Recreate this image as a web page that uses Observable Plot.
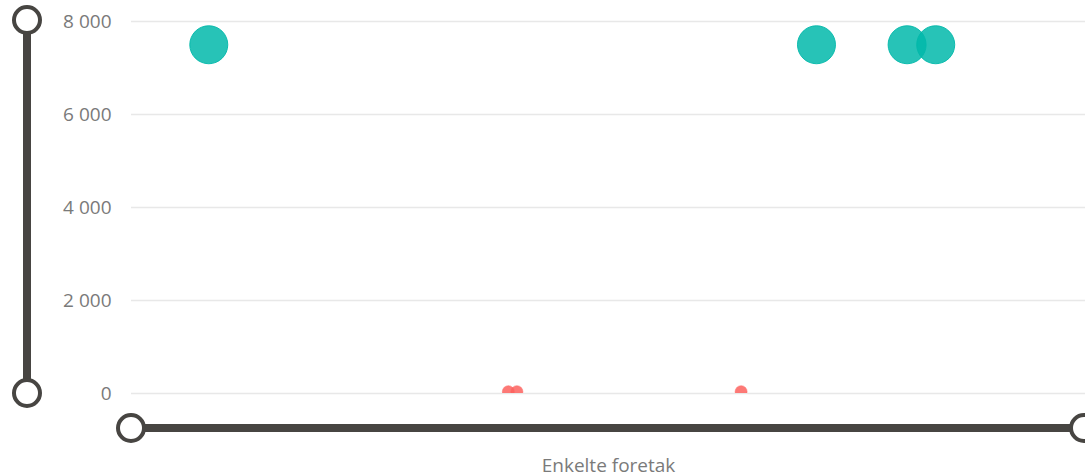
<!DOCTYPE html>
<html><head><meta charset="utf-8">
<script src="https://cdn.jsdelivr.net/npm/d3@7"></script>
<script src="https://cdn.jsdelivr.net/npm/@observablehq/plot@0.6"></script>
<style>
body{margin:0;background:#fff;}
svg{font-family:"Open Sans","Segoe UI",sans-serif;}
</style>
</head><body><div id="chart"></div>
<script>
// Series "store" (teal) and series "små" (red) – x position along the hidden axis, y value
const tealX = [81, 718, 813, 843];
const tealY = [7500, 7500, 7500, 7500];
const redX = [395, 404, 639];
const redY = [40, 40, 40];
const yTicks = [0, 2000, 4000, 6000, 8000];
const xDomain = [0, 1000];
const yDomain = [0, 8000];
const xLabel = "Enkelte foretak";

const teal = tealX.map((x, i) => ({x, y: tealY[i]}));
const red = redX.map((x, i) => ({x, y: redY[i]}));
const fmt = d => d3.format(",")(d).replace(/,/g, " ");

const plot = Plot.plot({
  width: 1085,
  height: 476,
  marginLeft: 131,
  marginRight: 0,
  marginTop: 21,
  marginBottom: 83,
  style: {fontSize: "19px", fontFamily: "'Open Sans','Segoe UI',sans-serif", color: "#7a7a7a", background: "#fff", overflow: "visible"},
  x: {domain: xDomain, axis: null},
  y: {domain: yDomain, ticks: yTicks, tickSize: 0, tickPadding: 20, tickFormat: fmt, label: null},
  marks: [
    Plot.ruleY(yTicks, {stroke: "#e8e8e8", strokeWidth: 1.5}),
    Plot.dot(red, {x: "x", y: "y", r: 6, fill: "#FD625E", fillOpacity: 0.85, stroke: "#FD625E", strokeOpacity: 0.9, strokeWidth: 0.5, clip: true}),
    Plot.dot(teal, {x: "x", y: "y", r: 19, fill: "#01B8AA", fillOpacity: 0.85, stroke: "#01B8AA", strokeOpacity: 0.9, strokeWidth: 1}),
    Plot.text([xLabel], {frameAnchor: "bottom", dy: 72, lineAnchor: "middle", fill: "#7a7a7a", fontSize: 19})
  ]
});
document.getElementById("chart").appendChild(plot);

// zoom-slider decorations, positioned from the scales' ranges
const svg = d3.select(plot);
const yr = plot.scale("y").range;   // [bottom, top]
const xr = plot.scale("x").range;   // [left, right]
const dark = "#474542";
const g = svg.append("g");
const vx = 27;
g.append("line").attr("x1", vx).attr("x2", vx).attr("y1", yr[0]).attr("y2", yr[1] - 1)
  .attr("stroke", dark).attr("stroke-width", 8);
[yr[0], yr[1] - 1].forEach(cy => g.append("circle").attr("cx", vx).attr("cy", cy).attr("r", 13)
  .attr("fill", "#fff").attr("stroke", dark).attr("stroke-width", 4));
const hy = yr[0] + 35;
g.append("line").attr("x1", xr[0]).attr("x2", xr[1] - 1).attr("y1", hy).attr("y2", hy)
  .attr("stroke", dark).attr("stroke-width", 8);
[xr[0], xr[1] - 1].forEach(cx => g.append("circle").attr("cx", cx).attr("cy", hy).attr("r", 13)
  .attr("fill", "#fff").attr("stroke", dark).attr("stroke-width", 4));
</script>
</body></html>
